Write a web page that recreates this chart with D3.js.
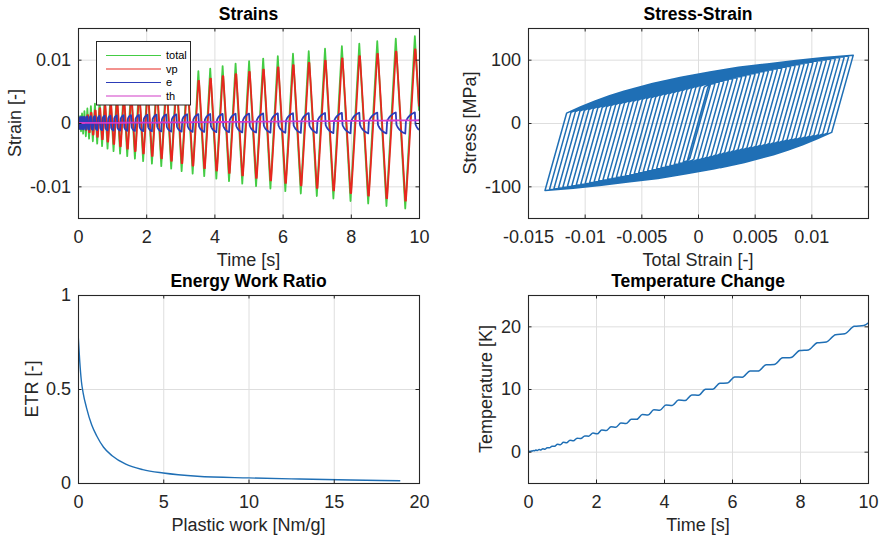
<!DOCTYPE html>
<html lang="en">
<head>
<meta charset="UTF-8">
<script src="https://cdnjs.cloudflare.com/ajax/libs/d3/7.8.5/d3.min.js"></script>
<style>
  body { margin: 0; background: white; }
  svg text { font-family: 'Liberation Sans', Arial, Helvetica, sans-serif; }
</style>
</head>
<body>
<div id="fig"></div>
<script>
// ---- data ----
// turning points of the total strain history (index 0 = start, last one lies just past t = 10 s)
var peakTime = [0, 0.0008, 0.0053, 0.0139, 0.0266, 0.0434, 0.0642, 0.0891, 0.1181, 0.1512, 0.1884,
  0.2296, 0.2749, 0.3243, 0.3777, 0.4353, 0.4969, 0.5626, 0.6323, 0.7062, 0.7841,
  0.8661, 0.9522, 1.0423, 1.1366, 1.2349, 1.3373, 1.4437, 1.5543, 1.6689, 1.7876,
  1.9103, 2.0372, 2.1681, 2.3031, 2.4422, 2.5853, 2.7326, 2.8839, 3.0393, 3.1987,
  3.3623, 3.5299, 3.7016, 3.8774, 4.0572, 4.2411, 4.4291, 4.6212, 4.8174, 5.0176,
  5.2219, 5.4303, 5.6428, 5.8593, 6.0799, 6.3046, 6.5334, 6.7662, 7.0032, 7.2442,
  7.4893, 7.7384, 7.9916, 8.2490, 8.5103, 8.7758, 9.0454, 9.3190, 9.5967, 9.8784, 10.164];
var peakStrain = [0, -0.00012, 0.00032, -0.00051, 0.00071, -0.00091, 0.00110, -0.00130, 0.00150, -0.00169, 0.00189,
  -0.00209, 0.00229, -0.00248, 0.00268, -0.00288, 0.00307, -0.00327, 0.00347, -0.00366, 0.00386,
  -0.00406, 0.00425, -0.00445, 0.00465, -0.00484, 0.00504, -0.00524, 0.00543, -0.00563, 0.00583,
  -0.00602, 0.00622, -0.00642, 0.00661, -0.00681, 0.00701, -0.00721, 0.00740, -0.00760, 0.00780,
  -0.00799, 0.00819, -0.00839, 0.00858, -0.00878, 0.00898, -0.00917, 0.00937, -0.00957, 0.00976,
  -0.00996, 0.01016, -0.01035, 0.01055, -0.01075, 0.01094, -0.01114, 0.01134, -0.01153, 0.01173,
  -0.01193, 0.01213, -0.01232, 0.01252, -0.01272, 0.01291, -0.01311, 0.01331, -0.01350, 0.01370, -0.01390];
var peakStress = [0, -7.7, 20.3, -32.9, 45.4, -58.0, 60.8, -61.7, 62.6, -63.6, 64.5,
  -65.4, 66.3, -67.2, 68.1, -68.9, 69.8, -70.7, 71.6, -72.5, 73.4,
  -74.2, 75.0, -75.8, 76.6, -77.4, 78.2, -78.9, 79.7, -80.5, 81.3,
  -82.1, 82.8, -83.5, 84.1, -84.8, 85.5, -86.2, 86.9, -87.6, 88.3,
  -89.0, 89.7, -90.3, 91.0, -91.7, 92.4, -93.1, 93.8, -94.5, 95.2,
  -95.9, 96.5, -97.1, 97.7, -98.2, 98.8, -99.4, 100.0, -100.6, 101.2,
  -101.8, 102.4, -103.0, 103.6, -104.1, 104.7, -105.3, 105.9, -106.5, 107.1, -107.7];
var peakTemp = [0, 0.03, -0.03, 0.04, -0.01, 0.07, 0.03, 0.11, 0.08, 0.17, 0.14,
  0.27, 0.19, 0.35, 0.28, 0.45, 0.39, 0.62, 0.61, 0.86, 0.87,
  1.19, 1.10, 1.49, 1.41, 1.81, 1.74, 2.15, 2.09, 2.52, 2.48,
  2.98, 2.84, 3.46, 3.36, 3.99, 3.91, 4.56, 4.49, 5.17, 5.16,
  5.92, 5.85, 6.67, 6.60, 7.45, 7.38, 8.23, 8.17, 9.06, 9.00,
  9.95, 9.95, 10.92, 10.94, 11.92, 11.89, 12.87, 12.86, 13.86, 13.91,
  14.97, 15.04, 16.14, 16.24, 17.38, 17.50, 18.67, 18.81, 20.00, 20.14, 21.37];

// shape of a plastic branch (normalised, read from the outer loop)
var branchU = [0, 0.05, 0.1, 0.15, 0.2, 0.3, 0.4, 0.5, 0.6, 0.7, 0.8, 0.9, 1];
var branchV = [0, 0.11, 0.21, 0.30, 0.38, 0.51, 0.62, 0.71, 0.79, 0.85, 0.91, 0.96, 1];

// energy work ratio curve
var plasticWork = [0, 0.1, 0.2, 0.3, 0.5, 0.8, 1.1, 1.5, 2.0, 2.8, 3.8, 5.0, 7.0, 10.0, 13.0, 16.0, 18.9];
var etrValue = [0.80, 0.65, 0.54, 0.48, 0.40, 0.31, 0.25, 0.19, 0.145, 0.10, 0.071, 0.053, 0.036, 0.027, 0.021, 0.016, 0.012];

var youngMod = 64000;      // MPa
var elasticRange = 122;    // MPa
var alphaTh = 2.1e-5;      // 1/K
var tEnd = 10;

var timeTicks = [0, 2, 4, 6, 8, 10];
var strainTicks = [-0.01, 0, 0.01];
var totalStrainTicks = [-0.015, -0.01, -0.005, 0, 0.005, 0.01];
var stressTicks = [-100, 0, 100];
var workTicks = [0, 5, 10, 15, 20];
var etrTicks = [0, 0.5, 1];
var tempTicks = [0, 10, 20];

var seriesNames = ['total', 'vp', 'e', 'th'];
var seriesColors = ['#44cc44', '#e8261f', '#2c3cb8', '#d23cc8'];

// ---- rebuild the strain / stress history between turning points ----
var hist = [{t: 0, eps: 0, sig: 0}];
for (var j = 1; j < peakTime.length; j++) {
  var e0 = peakStrain[j - 1], s0 = peakStress[j - 1], t0 = peakTime[j - 1];
  var e1 = peakStrain[j], s1 = peakStress[j], t1 = peakTime[j];
  var dir = e1 > e0 ? 1 : -1;
  var ds = Math.min(elasticRange, 0.95 * Math.abs(s1 - s0));
  var sr = s0 + dir * ds, er = e0 + dir * ds / youngMod;
  var pts = [];
  if (dir * (e1 - er) <= 0) {
    pts.push([e1, s1]);
  } else {
    pts.push([er, sr]);
    for (var k = 1; k < branchU.length; k++) {
      pts.push([er + branchU[k] * (e1 - er), sr + branchV[k] * (s1 - sr)]);
    }
  }
  pts.forEach(function (p) {
    hist.push({t: t0 + (p[0] - e0) / (e1 - e0) * (t1 - t0), eps: p[0], sig: p[1]});
  });
}
var record = [];
for (var i = 0; i < hist.length; i++) {
  if (hist[i].t <= tEnd) { record.push(hist[i]); continue; }
  var a = hist[i - 1], b = hist[i], f = (tEnd - a.t) / (b.t - a.t);
  record.push({t: tEnd, eps: a.eps + f * (b.eps - a.eps), sig: a.sig + f * (b.sig - a.sig)});
  break;
}
var tempAt = d3.scaleLinear().domain(peakTime).range(peakTemp);
record.forEach(function (h) {
  h.th = alphaTh * tempAt(h.t);
  h.el = h.sig / youngMod;
  h.vp = h.eps - h.el - h.th;
});

// ---- figure ----
var W = 883, H = 538;
var svg = d3.select('#fig').append('svg').attr('width', W).attr('height', H);
svg.append('rect').attr('width', W).attr('height', H).attr('fill', 'white');
var fmt = function (d) { return String(d); };

function makePanel(p) {
  var g = svg.append('g').attr('transform', 'translate(' + p.left + ',' + p.top + ')');
  var x = d3.scaleLinear().domain(p.xDomain).range([0, p.w]);
  var y = d3.scaleLinear().domain(p.yDomain).range([p.h, 0]);
  g.append('rect').attr('width', p.w).attr('height', p.h).attr('fill', 'white');
  g.append('g').selectAll('line').data(p.xTicks).enter().append('line')
    .attr('x1', function (d) { return x(d) + 0.5; }).attr('x2', function (d) { return x(d) + 0.5; })
    .attr('y1', 0).attr('y2', p.h).attr('stroke', '#dedede').attr('stroke-width', 1);
  g.append('g').selectAll('line').data(p.yTicks).enter().append('line')
    .attr('y1', function (d) { return y(d) + 0.5; }).attr('y2', function (d) { return y(d) + 0.5; })
    .attr('x1', 0).attr('x2', p.w).attr('stroke', '#dedede').attr('stroke-width', 1);
  svg.append('clipPath').attr('id', 'clip' + p.id)
    .append('rect').attr('width', p.w).attr('height', p.h);
  var plot = g.append('g').attr('clip-path', 'url(#clip' + p.id + ')');
  return {g: g, x: x, y: y, plot: plot, p: p};
}

function styleAxis(sel) {
  sel.select('.domain').remove();
  sel.attr('font-size', 18).attr('font-family', null);
  sel.selectAll('line').attr('stroke', '#262626');
  sel.selectAll('text').attr('fill', '#262626');
}

function finishPanel(P) {
  var g = P.g, p = P.p, x = P.x, y = P.y;
  g.append('g').attr('transform', 'translate(0,' + p.h + ')')
    .call(d3.axisBottom(x).tickValues(p.xTicks).tickFormat(fmt).tickSizeInner(-3.5).tickSizeOuter(0).tickPadding(12.2))
    .call(styleAxis);
  g.append('g')
    .call(d3.axisTop(x).tickValues(p.xTicks).tickFormat('').tickSizeInner(-3.5).tickSizeOuter(0))
    .call(styleAxis);
  g.append('g')
    .call(d3.axisLeft(y).tickValues(p.yTicks).tickFormat(fmt).tickSizeInner(-3.5).tickSizeOuter(0).tickPadding(7))
    .call(styleAxis);
  g.append('g').attr('transform', 'translate(' + p.w + ',0)')
    .call(d3.axisRight(y).tickValues(p.yTicks).tickFormat('').tickSizeInner(-3.5).tickSizeOuter(0))
    .call(styleAxis);
  g.append('rect').attr('x', 0.5).attr('y', 0.5).attr('width', p.w).attr('height', p.h)
    .attr('fill', 'none').attr('stroke', '#262626').attr('stroke-width', 1.1);
  g.append('text').attr('x', p.w / 2).attr('y', p.titleY).attr('text-anchor', 'middle')
    .attr('font-size', 17.5).attr('font-weight', 'bold').attr('fill', '#000').text(p.title);
  g.append('text').attr('x', p.w / 2).attr('y', p.h + 48).attr('text-anchor', 'middle')
    .attr('font-size', 18).attr('fill', '#262626').text(p.xLabel);
  g.append('text').attr('transform', 'translate(' + p.yLabelX + ',' + (p.h / 2) + ') rotate(-90)')
    .attr('text-anchor', 'middle').attr('font-size', 18).attr('fill', '#262626').text(p.yLabel);
}

// Strains
var A = makePanel({id: 'a', left: 78, top: 28, w: 341, h: 190, xDomain: [0, 10], yDomain: [-0.015, 0.015],
  xTicks: timeTicks, yTicks: strainTicks, title: 'Strains', titleY: -8.5,
  xLabel: 'Time [s]', yLabel: 'Strain [-]', yLabelX: -57});
var keys = ['eps', 'vp', 'el', 'th'];
keys.forEach(function (key, n) {
  A.plot.append('path').datum(record)
    .attr('d', d3.line().x(function (d) { return A.x(d.t); }).y(function (d) { return A.y(d[key]); }))
    .attr('fill', 'none').attr('stroke', seriesColors[n]).attr('stroke-width', 1.8)
    .attr('stroke-linejoin', 'round');
});
var leg = A.g.append('g');
leg.append('rect').attr('x', 18.5).attr('y', 13.5).attr('width', 94).attr('height', 63.5)
  .attr('fill', 'white').attr('stroke', '#262626').attr('stroke-width', 1);
seriesNames.forEach(function (name, n) {
  var ly = 27.5 + n * 13.5;
  leg.append('line').attr('x1', 28).attr('x2', 83).attr('y1', ly).attr('y2', ly)
    .attr('stroke', seriesColors[n]).attr('stroke-width', 1.2);
  leg.append('text').attr('x', 88).attr('y', ly).attr('dy', '0.35em').attr('font-size', 11)
    .attr('fill', '#000').text(name);
});
finishPanel(A);

// Stress-Strain
var B = makePanel({id: 'b', left: 528, top: 28, w: 340, h: 190, xDomain: [-0.015, 0.015], yDomain: [-150, 150],
  xTicks: totalStrainTicks, yTicks: stressTicks, title: 'Stress-Strain', titleY: -8.5,
  xLabel: 'Total Strain [-]', yLabel: 'Stress [MPa]', yLabelX: -52});
B.plot.append('path').datum(record)
  .attr('d', d3.line().x(function (d) { return B.x(d.eps); }).y(function (d) { return B.y(d.sig); }))
  .attr('fill', 'none').attr('stroke', '#1f6fb5').attr('stroke-width', 1.5).attr('stroke-linejoin', 'round');
finishPanel(B);

// Energy Work Ratio
var C = makePanel({id: 'c', left: 78, top: 295, w: 341, h: 188, xDomain: [0, 20], yDomain: [0, 1],
  xTicks: workTicks, yTicks: etrTicks, title: 'Energy Work Ratio', titleY: -8.5,
  xLabel: 'Plastic work [Nm/g]', yLabel: 'ETR [-]', yLabelX: -40.5});
C.plot.append('path').datum(d3.zip(plasticWork, etrValue))
  .attr('d', d3.line().curve(d3.curveMonotoneX).x(function (d) { return C.x(d[0]); }).y(function (d) { return C.y(d[1]); }))
  .attr('fill', 'none').attr('stroke', '#1f6fb5').attr('stroke-width', 1.4);
finishPanel(C);

// Temperature Change
var D = makePanel({id: 'd', left: 528, top: 295, w: 340, h: 188, xDomain: [0, 10], yDomain: [-5, 25],
  xTicks: timeTicks, yTicks: tempTicks, title: 'Temperature Change', titleY: -8.5,
  xLabel: 'Time [s]', yLabel: 'Temperature [K]', yLabelX: -36.5});
D.plot.append('path').datum(d3.zip(peakTime, peakTemp))
  .attr('d', d3.line().curve(d3.curveMonotoneX).x(function (d) { return D.x(d[0]); }).y(function (d) { return D.y(d[1]); }))
  .attr('fill', 'none').attr('stroke', '#1f6fb5').attr('stroke-width', 1.5);
finishPanel(D);
</script>
</body>
</html>
